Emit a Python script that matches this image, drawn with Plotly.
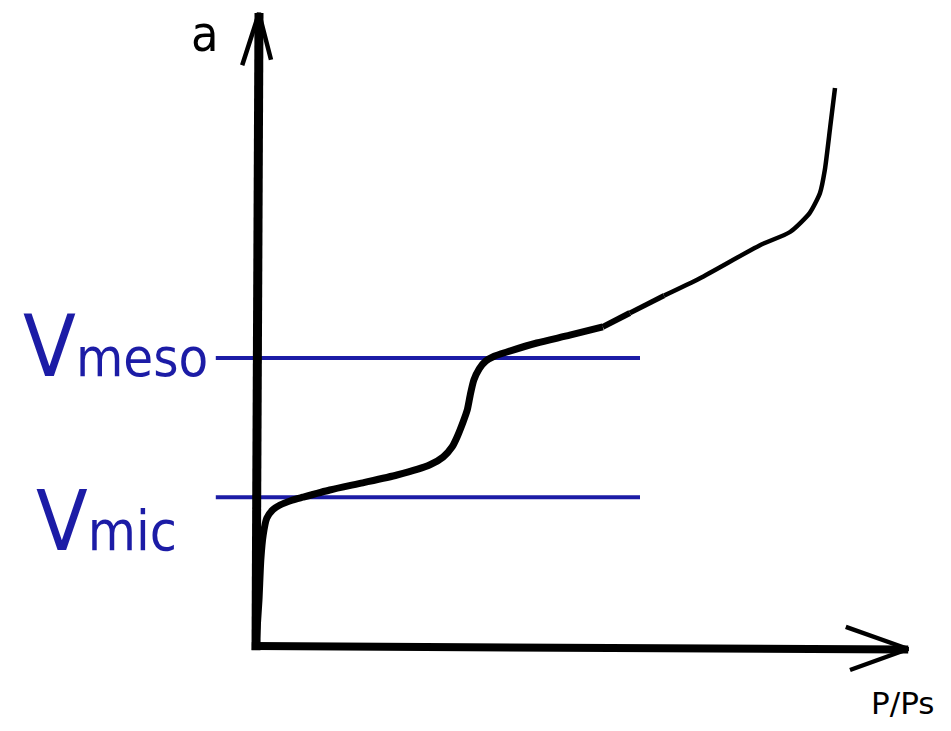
import plotly.graph_objects as go

# Isotherm curve: relative pressure P/Ps vs adsorbed amount a (arbitrary units)
p_thick = [0.0, 0.005, 0.008, 0.012, 0.018, 0.028, 0.04, 0.06, 0.078, 0.123, 0.178, 0.235,
           0.29, 0.312, 0.327, 0.335, 0.345, 0.352, 0.357, 0.363, 0.372, 0.383, 0.397,
           0.418, 0.468, 0.523, 0.578]
a_thick = [0.0, 0.077, 0.143, 0.185, 0.213, 0.227, 0.235, 0.243, 0.248, 0.26, 0.272, 0.285,
           0.302, 0.315, 0.332, 0.348, 0.373, 0.393, 0.418, 0.443, 0.462, 0.475, 0.483,
           0.49, 0.505, 0.518, 0.532]
p_mid1 = [0.578, 0.623]
a_mid1 = [0.532, 0.555]
p_mid2 = [0.623, 0.68]
a_mid2 = [0.555, 0.584]
p_thin = [0.68, 0.74, 0.84, 0.89, 0.923, 0.94, 0.948, 0.957, 0.965]
a_thin = [0.584, 0.613, 0.668, 0.69, 0.722, 0.755, 0.793, 0.865, 0.93]

# Reference levels
level_names = ["meso", "mic"]
level_values = [0.48, 0.248]
level_p_start = -0.067
level_p_end = 0.64

# Axes (drawn as arrows)
yaxis_p = [0.0, 0.005]
yaxis_a = [-0.007, 1.055]
yhead_p = [-0.023, 0.005, 0.025]
yhead_a = [0.968, 1.055, 0.977]
xaxis_p = [-0.007, 1.087]
xaxis_a = [0.0, -0.006]
xhead_p = [0.983, 1.087, 0.99]
xhead_a = [0.032, -0.005, -0.04]

BLUE = "#1c1ca6"
fig = go.Figure()

for name, v in zip(level_names, level_values):
    fig.add_trace(go.Scatter(x=[level_p_start, level_p_end], y=[v, v], mode="lines",
                             line=dict(color=BLUE, width=4), hoverinfo="skip"))

fig.add_trace(go.Scatter(x=yaxis_p, y=yaxis_a, mode="lines", line=dict(color="black", width=9)))
fig.add_trace(go.Scatter(x=yhead_p, y=yhead_a, mode="lines", line=dict(color="black", width=4.5)))
fig.add_trace(go.Scatter(x=xaxis_p, y=xaxis_a, mode="lines", line=dict(color="black", width=8)))
fig.add_trace(go.Scatter(x=xhead_p, y=xhead_a, mode="lines", line=dict(color="black", width=4.5)))

fig.add_trace(go.Scatter(x=p_thick, y=a_thick, mode="lines",
                         line=dict(color="black", width=7, shape="spline", smoothing=0.6)))
fig.add_trace(go.Scatter(x=p_mid1, y=a_mid1, mode="lines",
                         line=dict(color="black", width=6)))
fig.add_trace(go.Scatter(x=p_mid2, y=a_mid2, mode="lines",
                         line=dict(color="black", width=5.2)))
fig.add_trace(go.Scatter(x=p_thin, y=a_thin, mode="lines",
                         line=dict(color="black", width=4.5, shape="spline", smoothing=0.6)))

font_main = "DejaVu Sans Condensed, DejaVu Sans, sans-serif"
fig.add_annotation(x=-0.085, y=1.02, text="a", showarrow=False,
                   font=dict(size=50, color="black", family=font_main))
fig.add_annotation(x=1.077, y=-0.095, text="P/Ps", showarrow=False,
                   font=dict(size=31, color="black", family="DejaVu Sans, sans-serif"))
fig.add_annotation(x=-0.392, y=0.5, xanchor="left", yanchor="middle", showarrow=False,
                   text="V<span style='font-size:54px'>meso</span>",
                   font=dict(size=86, color=BLUE, family=font_main))
fig.add_annotation(x=-0.37, y=0.208, xanchor="left", yanchor="middle", showarrow=False,
                   text="V<span style='font-size:55px'>mic</span>",
                   font=dict(size=84, color=BLUE, family=font_main))

fig.update_layout(
    width=951, height=731, showlegend=False,
    margin=dict(l=0, r=0, t=0, b=0),
    plot_bgcolor="white", paper_bgcolor="white",
    xaxis=dict(range=[-0.42667, 1.15833], visible=False, fixedrange=True),
    yaxis=dict(range=[-0.14167, 1.07667], visible=False, fixedrange=True),
)
fig.write_html("out.html", config={"displayModeBar": False},
               post_script="document.body.style.margin='0';document.body.style.overflow='hidden';")
